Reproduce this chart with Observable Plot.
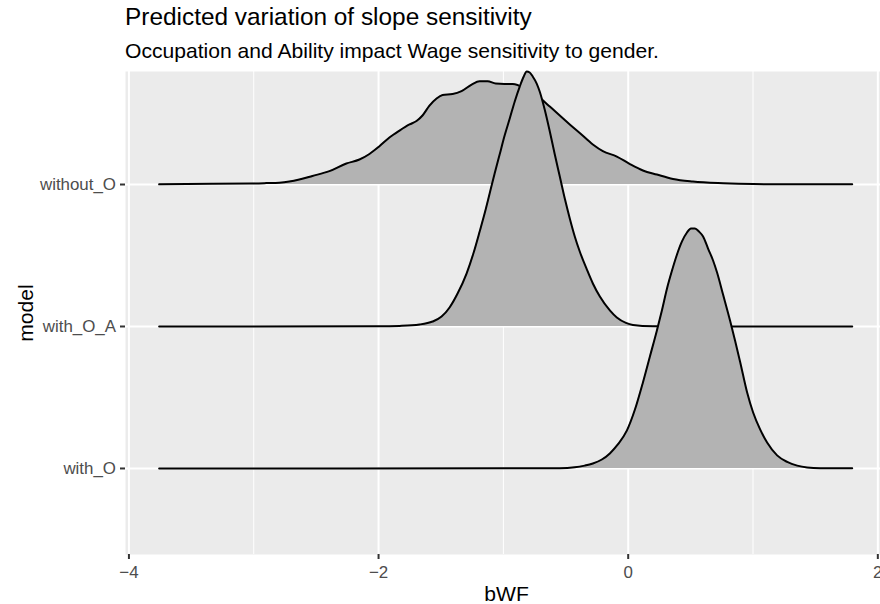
<!DOCTYPE html>
<html>
<head>
<meta charset="utf-8">
<script src="https://cdn.jsdelivr.net/npm/d3@7"></script>
<script src="https://cdn.jsdelivr.net/npm/@observablehq/plot@0.6"></script>
<style>
  html, body { margin: 0; padding: 0; background: #fff; overflow: hidden; }
  #wrap { position: relative; width: 880px; height: 604px; overflow: hidden; font-family: "Liberation Sans", Arial, sans-serif; }
  #title { position: absolute; left: 125px; top: 5px; font-size: 24.4px; line-height: 1; color: #000; white-space: nowrap; }
  #subtitle { position: absolute; left: 125px; top: 39.5px; font-size: 21.1px; line-height: 1; color: #000; white-space: nowrap; }
  #chart { position: absolute; left: 0; top: 0; }
</style>
</head>
<body>
<div id="wrap">
  <div id="chart"></div>
  <div id="title">Predicted variation of slope sensitivity</div>
  <div id="subtitle">Occupation and Ability impact Wage sensitivity to gender.</div>
</div>
<script>
// Categories (bottom to top)
const models = ["with_O", "with_O_A", "without_O"];
const xTicks = [-4, -2, 0, 2];
const xMinor = [-3, -1, 1];

// Ridge for "without_O": bWF values and ridge heights (in row units)
const xWithoutO = [-3.758, -3.333, -3.036, -2.900, -2.795, -2.715, -2.635, -2.530, -2.394, -2.258, -2.153, -2.073, -1.993, -1.913, -1.832, -1.752, -1.696, -1.648, -1.592, -1.535, -1.487, -1.407, -1.335, -1.254, -1.190, -1.126, -1.062, -0.990, -0.925, -0.813, -0.709, -0.628, -0.548, -0.468, -0.388, -0.283, -0.203, -0.091, 0.014, 0.118, 0.230, 0.359, 0.519, 0.760, 1.001, 1.378, 1.795];
const hWithoutO = [0.001, 0.005, 0.007, 0.010, 0.013, 0.021, 0.035, 0.060, 0.094, 0.148, 0.176, 0.215, 0.270, 0.331, 0.380, 0.423, 0.447, 0.486, 0.556, 0.606, 0.630, 0.637, 0.658, 0.704, 0.727, 0.727, 0.711, 0.708, 0.708, 0.669, 0.610, 0.549, 0.486, 0.423, 0.363, 0.282, 0.235, 0.197, 0.144, 0.099, 0.070, 0.039, 0.021, 0.009, 0.003, 0.001, 0.001];

// Ridge for "with_O_A"
const xWithOA = [-3.758, -1.993, -1.832, -1.672, -1.567, -1.495, -1.431, -1.367, -1.295, -1.238, -1.190, -1.142, -1.110, -1.070, -1.030, -0.990, -0.949, -0.909, -0.869, -0.837, -0.813, -0.789, -0.765, -0.733, -0.709, -0.669, -0.628, -0.588, -0.548, -0.508, -0.468, -0.428, -0.388, -0.331, -0.283, -0.227, -0.147, -0.091, -0.018, 0.038, 0.198, 0.575, 1.795];
const hWithOA = [0, 0.001, 0.004, 0.014, 0.035, 0.070, 0.134, 0.232, 0.373, 0.521, 0.669, 0.824, 0.937, 1.077, 1.211, 1.345, 1.465, 1.585, 1.690, 1.761, 1.796, 1.789, 1.761, 1.711, 1.655, 1.528, 1.373, 1.211, 1.056, 0.901, 0.761, 0.634, 0.528, 0.401, 0.303, 0.211, 0.113, 0.063, 0.025, 0.011, 0.002, 0, 0];

// Ridge for "with_O"
const xWithO = [-3.758, -0.548, -0.428, -0.348, -0.283, -0.211, -0.147, -0.083, -0.010, 0.054, 0.118, 0.174, 0.230, 0.270, 0.311, 0.351, 0.391, 0.431, 0.471, 0.503, 0.535, 0.567, 0.600, 0.640, 0.680, 0.712, 0.760, 0.816, 0.856, 0.896, 0.953, 1.001, 1.057, 1.113, 1.193, 1.274, 1.354, 1.434, 1.539, 1.795];
const hWithO = [0, 0.002, 0.008, 0.020, 0.035, 0.063, 0.106, 0.169, 0.268, 0.415, 0.606, 0.789, 0.972, 1.113, 1.268, 1.394, 1.507, 1.599, 1.662, 1.690, 1.690, 1.669, 1.634, 1.549, 1.465, 1.380, 1.225, 1.042, 0.901, 0.754, 0.535, 0.394, 0.275, 0.183, 0.092, 0.046, 0.020, 0.007, 0.002, 0.001];

function ridgeRows(xs, hs, level) {
  return xs.map((x, i) => ({x, base: level, top: level + hs[i]}));
}
const ridges = [
  ridgeRows(xWithoutO, hWithoutO, 3),
  ridgeRows(xWithOA, hWithOA, 2),
  ridgeRows(xWithO, hWithO, 1)
];

const ridgeMarks = [];
for (const r of ridges) {
  ridgeMarks.push(Plot.areaY(r, {x: "x", y1: "base", y2: "top", fill: "#B3B3B3", curve: "monotone-x"}));
  ridgeMarks.push(Plot.lineY(r, {x: "x", y: "top", stroke: "#000", strokeWidth: 2, curve: "monotone-x"}));
}

const fmt = d => d < 0 ? "\u2212" + Math.abs(d) : String(d);

const chart = Plot.plot({
  width: 887,
  height: 604,
  marginLeft: 125,
  marginRight: 0,
  marginTop: 71,
  marginBottom: 50,
  style: {fontFamily: "'Liberation Sans', Arial, sans-serif", fontSize: "16.9px", background: "transparent", overflow: "visible", maxWidth: "none"},
  x: {domain: [-4.0275, 2.0775]},
  y: {domain: [0.394, 3.796]},
  marks: [
    Plot.frame({fill: "#EBEBEB", stroke: null}),
    Plot.ruleX(xMinor, {stroke: "#fff", strokeWidth: 1}),
    Plot.ruleX(xTicks, {stroke: "#fff", strokeWidth: 2}),
    Plot.ruleY([1, 2, 3], {stroke: "#fff", strokeWidth: 2}),
    ...ridgeMarks,
    Plot.axisX({ticks: xTicks, tickFormat: fmt, tickSize: 5, tickPadding: 6, stroke: "#333", strokeWidth: 2, fill: "#4D4D4D", label: null}),
    Plot.axisY({ticks: [1, 2, 3], tickFormat: d => models[d - 1], tickSize: 5, tickPadding: 4.5, stroke: "#333", strokeWidth: 2, fill: "#4D4D4D", label: null}),
    Plot.text(["bWF"], {frameAnchor: "bottom", lineAnchor: "middle", textAnchor: "middle", dy: 39.5, fontSize: 21.1, fill: "#000"}),
    Plot.text(["model"], {frameAnchor: "left", lineAnchor: "middle", textAnchor: "middle", dx: -99, rotate: -90, fontSize: 21.1, fill: "#000"})
  ]
});
document.getElementById("chart").appendChild(chart);
</script>
</body>
</html>
